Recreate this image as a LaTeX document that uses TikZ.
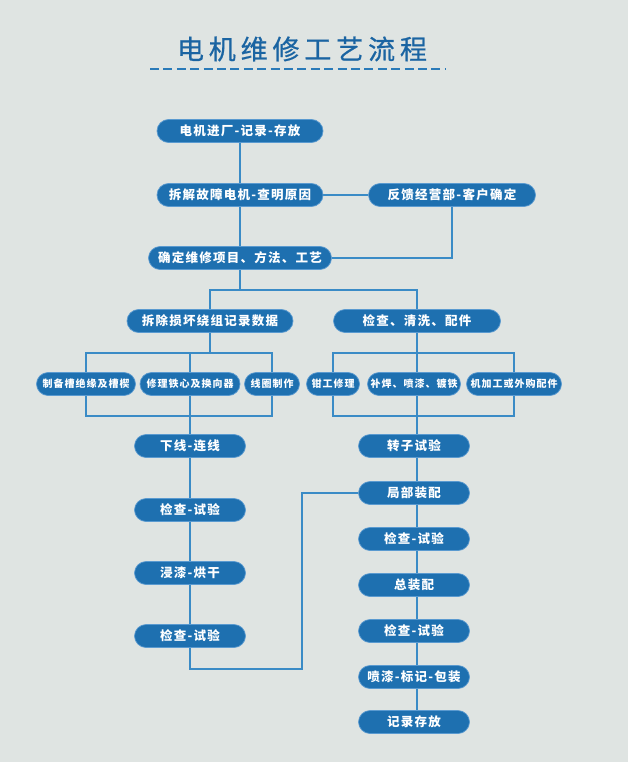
\documentclass[tikz,border=0pt]{standalone}
\usepackage{fontspec}
\newfontfamily\cjk[LetterSpace=10]{Noto Sans CJK SC}
\newfontfamily\cjktitle[LetterSpace=18,FakeBold=0.7]{Noto Sans CJK SC}
\definecolor{bgc}{HTML}{DFE4E2}
\definecolor{boxblue}{HTML}{1E70B0}
\definecolor{boxedge}{HTML}{5A9AD0}
\definecolor{linec}{HTML}{3A8BC6}
\definecolor{titlec}{HTML}{1A64A2}
\definecolor{dashc}{HTML}{2A7AB8}
\pgfdeclarelayer{bg}
\pgfsetlayers{bg,main}
\tikzset{
  box/.style={fill=boxblue, draw=boxedge, line width=0.7, rounded corners=11.5,
    minimum height=23, inner sep=0, text=white,
    font=\cjk\bfseries\fontsize{12.5}{14}\selectfont},
  sbox/.style={box, font=\cjk\bfseries\fontsize{10}{12}\selectfont},
  conn/.style={draw=linec, line width=1.8},
}
\begin{document}
\begin{tikzpicture}[x=1pt,y=-1pt]
\begin{pgfonlayer}{bg}
\fill[bgc] (0,0) rectangle (628,762);
\end{pgfonlayer}
\useasboundingbox (0,0) rectangle (628,762);
% title
\node[text=titlec, font=\cjktitle\fontsize{27}{32}\selectfont] (title) at (302,49) {电机维修工艺流程};
\coordinate (d1) at (150,69);
\coordinate (d2) at (446,69);
\draw[dashc, line width=2.5, dash pattern=on 9 off 4.4] (d1) -- (d2);
% upper
\node[box, minimum width=166] (b1) at (240,131) {电机进厂-记录-存放};
\node[box, minimum width=166] (b2) at (240,195) {拆解故障电机-查明原因};
\node[box, minimum width=167] (fb) at (452,195) {反馈经营部-客户确定};
\node[box, minimum width=183] (b3) at (240,258) {确定维修项目、方法、工艺};
\node[box, minimum width=166] (L1) at (210,321) {拆除损坏绕组记录数据};
\node[box, minimum width=167] (R1) at (417,321) {检查、清洗、配件};
% small boxes
\node[sbox, minimum width=99] (s1) at (86,384) {制备槽绝缘及槽楔};
\node[sbox, minimum width=100] (s2) at (190,384) {修理铁心及换向器};
\node[sbox, minimum width=55] (s3) at (272,384) {线圈制作};
\node[sbox, minimum width=53] (s4) at (333,384) {钳工修理};
\node[sbox, minimum width=93] (s5) at (414,384) {补焊、喷漆、镀铁};
\node[sbox, minimum width=95] (s6) at (514,384) {机加工或外购配件};
% left column
\node[box, minimum width=111] (L2) at (190,446) {下线-连线};
\node[box, minimum width=111] (L3) at (190,510) {检查-试验};
\node[box, minimum width=111] (L4) at (190,573) {浸漆-烘干};
\node[box, minimum width=111] (L5) at (190,636) {检查-试验};
% right column
\node[box, minimum width=111] (R2) at (414,446) {转子试验};
\node[box, minimum width=111] (R3) at (414,493) {局部装配};
\node[box, minimum width=111] (R4) at (414,539) {检查-试验};
\node[box, minimum width=111] (R5) at (414,585) {总装配};
\node[box, minimum width=111] (R6) at (414,631) {检查-试验};
\node[box, minimum width=111] (R7) at (414,677) {喷漆-标记-包装};
\node[box, minimum width=111] (R8) at (414,722) {记录存放};
% helper coordinates
\coordinate (sp) at (240,290);
\coordinate (tl) at (0,353);
\coordinate (bl) at (0,416);
\coordinate (rc) at (417,0);
\coordinate (rt) at (302,669);
\begin{pgfonlayer}{bg}
\draw[conn] (b1) -- (b3);
\draw[conn] (b2) -- (fb);
\draw[conn] (fb.south) |- (b3.east);
\draw[conn] (b3.south) -- (sp);
\draw[conn] (L1.north) -- (L1.north |- sp) -- (rc |- sp) -- (rc |- R1.north);
% left bracket
\draw[conn] (L1.south) -- (L1.south |- tl);
\draw[conn] (s1.center |- tl) -- (s3.center |- tl) -- (s3.center |- bl) -- (s1.center |- bl) -- cycle;
\draw[conn] (s2.center |- tl) -- (s2.center |- bl);
\draw[conn] (L2.center |- bl) -- (L5.south) |- (rt) |- (R3.west);
% right bracket
\draw[conn] (s4.center |- tl) -- (s6.center |- tl) -- (s6.center |- bl) -- (s4.center |- bl) -- cycle;
\draw[conn] (rc |- R1.south) -- (rc |- R8.north);
\end{pgfonlayer}
\end{tikzpicture}
\end{document}
